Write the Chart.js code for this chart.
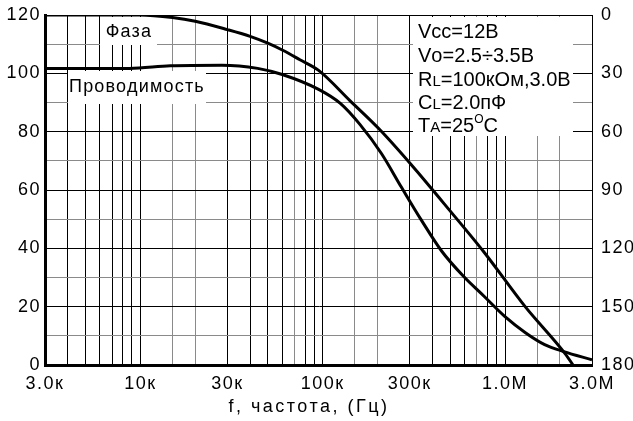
<!DOCTYPE html>
<html>
<head>
<meta charset="utf-8">
<script src="https://cdn.jsdelivr.net/npm/chart.js@4.4.1/dist/chart.umd.min.js"></script>
<style>
html, body { margin: 0; padding: 0; background: #fff; }
#wrap { width: 633px; height: 421px; }
</style>
</head>
<body>
<div id="wrap"><canvas id="grafico"></canvas></div>
<script>

// Проводимость (left axis)
var gainFreq = [3000, 8700, 14600, 28000, 44000, 60000, 95000, 125000, 160000, 210000, 270000, 345000, 450000, 590000, 770000, 1000000, 1300000, 1650000, 2100000, 3000000];
var gain     = [101.7, 101.7, 102.6, 102.8, 101.7, 99.6, 94.5, 89.7, 82.5, 72.5, 61, 50, 39, 30.5, 23.5, 16.6, 11, 7, 4.6, 1.8];

// Фаза (right axis, reversed)
var phaseFreq = [3000, 10000, 15000, 20000, 30000, 40000, 50000, 60000, 75000, 95000, 141000, 206000, 313000, 463000, 768000, 1290000, 2130000, 2360000];
var phase     = [0, 0, 1.3, 3.2, 7.5, 11, 14.5, 18, 23, 28.5, 44, 59, 78, 97, 122, 150, 174, 180];

var xGrid = [3000, 4000, 5000, 6000, 7000, 8000, 9000, 10000, 15000, 20000, 30000, 40000, 50000, 60000, 70000, 80000, 90000,
             100000, 150000, 200000, 300000, 400000, 500000, 600000, 700000, 800000, 900000, 1000000, 1500000, 2000000, 3000000];
var xGridGray = [15000, 20000, 70000, 150000, 200000, 700000, 1500000, 2000000];
var xTickVals = [3000, 10000, 30000, 100000, 300000, 1000000, 3000000];
var xTickLabels = ['3.0к', '10к', '30к', '100к', '300к', '1.0M', '3.0M'];

var FONTE = '"Liberation Sans", Arial, sans-serif';
var CINZA = '#8a8a8a';

function pontos(xs, ys) {
	var out = [];
	for (var t = 0; t < xs.length; t++) {
		out.push({ x: xs[t], y: ys[t] });
	}
	return out;
}

// white label boxes + texts
var caixas = {
	id: 'caixas',
	beforeDraw: function(chart) {
		// the original lettering is a bit tracked out
		chart.ctx.letterSpacing = '1.5px';
	},
	beforeDatasetsDraw: function(chart) {
		var ctx = chart.ctx;
		ctx.save();
		ctx.fillStyle = '#fff';
		ctx.fillRect(100, 17, 57, 28);
		ctx.fillRect(68, 71, 138, 33);
		ctx.fillRect(413, 17, 160, 119);

		ctx.fillStyle = '#000';
		ctx.textBaseline = 'middle';
		ctx.letterSpacing = '1.2px';
		ctx.font = '18px ' + FONTE;
		ctx.textAlign = 'center';
		ctx.fillText('Фаза', 129, 32);
		ctx.textAlign = 'left';
		ctx.fillText('Проводимость', 69, 87);

		ctx.letterSpacing = '0px';
		ctx.textBaseline = 'alphabetic';
		var linhas = [
			[['V', 20], ['cc', 20], ['=12В', 20]],
			[['V', 20], ['o', 20], ['=2.5÷3.5В', 20]],
			[['R', 20], ['L', 15], ['=100кОм,3.0В', 20]],
			[['C', 20], ['L', 15], ['=2.0пФ', 20]],
			[['T', 20], ['A', 15], ['=25', 20], ['O', 12, -9], ['C', 20]]
		];
		var ys = [38, 62, 86, 109, 132];
		for (var i = 0; i < linhas.length; i++) {
			var x = 418;
			for (var j = 0; j < linhas[i].length; j++) {
				var seg = linhas[i][j];
				ctx.font = seg[1] + 'px ' + FONTE;
				ctx.fillText(seg[0], x, ys[i] + (seg[2] || 0));
				x += ctx.measureText(seg[0]).width;
			}
		}
		ctx.restore();
	},
	afterDraw: function(chart) {
		var ctx = chart.ctx;
		ctx.save();
		ctx.letterSpacing = '2.5px';
		ctx.fillStyle = '#000';
		ctx.font = '18px ' + FONTE;
		ctx.textAlign = 'center';
		ctx.textBaseline = 'middle';
		ctx.fillText('f, частота, (Гц)', 309, 407);
		ctx.restore();
	}
};

function semMargem(scale, w) {
	scale.width = w;
	scale.paddingTop = 0;
	scale.paddingBottom = 0;
}

new Chart(document.getElementById('grafico'), {
	type: 'line',
	data: {
		datasets: [{
			label: 'Проводимость',
			data: pontos(gainFreq, gain),
			yAxisID: 'y',
			borderColor: '#000',
			borderWidth: 3,
			pointRadius: 0,
			cubicInterpolationMode: 'monotone',
			fill: false
		}, {
			label: 'Фаза',
			data: pontos(phaseFreq, phase),
			yAxisID: 'y2',
			borderColor: '#000',
			borderWidth: 3,
			pointRadius: 0,
			cubicInterpolationMode: 'monotone',
			fill: false
		}]
	},
	options: {
		responsive: true,
		maintainAspectRatio: false,
		animation: false,
		events: [],
		layout: { padding: { top: 15, left: 0, right: 0, bottom: 0 } },
		plugins: {
			legend: { display: false },
			tooltip: { enabled: false }
		},
		scales: {
			x: {
				type: 'logarithmic',
				min: 3000,
				max: 3000000,
				afterBuildTicks: function(scale) {
					scale.ticks = xGrid.map(function(v) { return { value: v }; });
				},
				afterFit: function(scale) { scale.height = 56; },
				ticks: {
					autoSkip: false,
					maxRotation: 0,
					padding: 8,
					color: '#000',
					font: { family: FONTE, size: 18 },
					callback: function(value) {
						var k = xTickVals.indexOf(value);
						return k >= 0 ? xTickLabels[k] : '';
					}
				},
				grid: {
					drawTicks: false,
					lineWidth: 1,
					color: function(c) {
						return (c.tick && xGridGray.indexOf(c.tick.value) >= 0) ? CINZA : '#000';
					}
				},
				border: { color: '#000', width: 3 }
			},
			y: {
				position: 'left',
				min: 0,
				max: 120,
				afterFit: function(scale) { semMargem(scale, 45); },
				ticks: {
					stepSize: 10,
					padding: 4,
					color: '#000',
					font: { family: FONTE, size: 18 },
					callback: function(value) { return value % 20 === 0 ? value : ''; }
				},
				grid: {
					drawTicks: false,
					lineWidth: 1,
					color: function(c) {
						return (c.tick && c.tick.value % 20 !== 0) ? CINZA : '#000';
					}
				},
				border: { color: '#000', width: 3 }
			},
			y2: {
				position: 'right',
				min: 0,
				max: 180,
				reverse: true,
				afterFit: function(scale) { semMargem(scale, 41); },
				ticks: {
					stepSize: 30,
					padding: 9,
					color: '#000',
					font: { family: FONTE, size: 18 }
				},
				grid: { drawOnChartArea: false, drawTicks: false },
				border: { display: false }
			}
		}
	},
	plugins: [caixas]
});

</script>
</body>
</html>
